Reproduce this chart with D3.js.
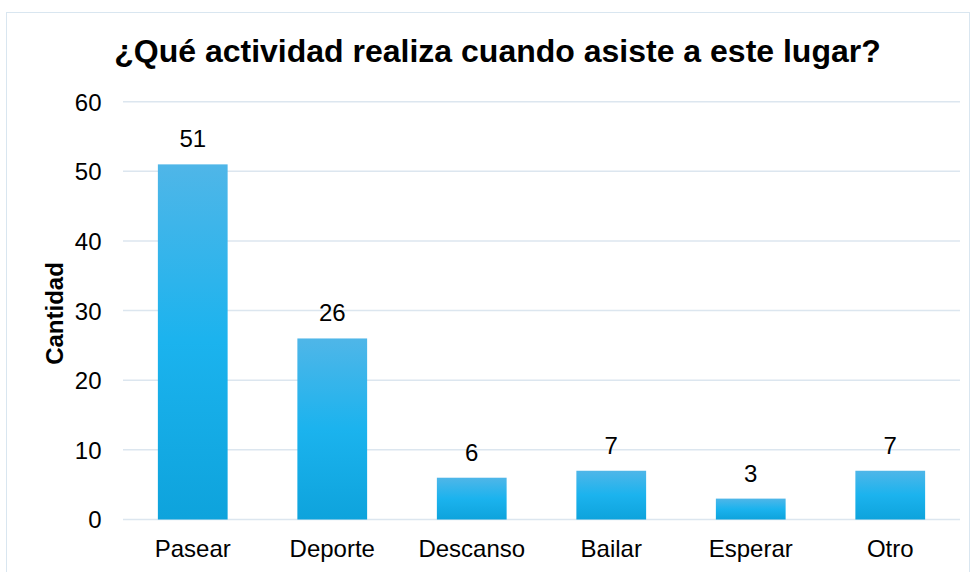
<!DOCTYPE html>
<html><head><meta charset="utf-8">
<script src="https://cdn.jsdelivr.net/npm/d3@7/dist/d3.min.js"></script>
<style>body{margin:0;background:#fff;font-family:"Liberation Sans",Arial,sans-serif}</style>
</head><body>
<svg id="c" width="977" height="572"></svg>
<script>
const categories = ["Pasear","Deporte","Descanso","Bailar","Esperar","Otro"];
const values = [51,26,6,7,3,7];
const yTicks = [0,10,20,30,40,50,60];
const title = "¿Qué actividad realiza cuando asiste a este lugar?";
const yTitle = "Cantidad";

(function(){
const svg = d3.select("#c");
const mLeft = 123, mRight = 960, mTop = 101.7, mBottom = 519.5;
const FF = "Liberation Sans, Arial, sans-serif";

const defs = svg.append("defs");
const g = defs.append("linearGradient").attr("id","bg").attr("x1",0).attr("y1",0).attr("x2",0).attr("y2",1);
g.append("stop").attr("offset","0%").attr("stop-color","#4fb6e8");
g.append("stop").attr("offset","50%").attr("stop-color","#1bb3ee");
g.append("stop").attr("offset","100%").attr("stop-color","#0ea3dc");

svg.append("rect").attr("x",6.5).attr("y",12.5).attr("width",963).attr("height",570)
  .attr("fill","#fff").attr("stroke","#d9e6f0").attr("stroke-width",1);

const x = d3.scaleBand().domain(categories).range([mLeft,mRight]).paddingInner(0.5).paddingOuter(0.25);
const y = d3.scaleLinear().domain([0,60]).range([mBottom,mTop]);

const grid = svg.append("g");
grid.selectAll("line").data(yTicks).join("line")
  .attr("x1",mLeft).attr("x2",mRight).attr("y1",d=>y(d)).attr("y2",d=>y(d))
  .attr("stroke","#dce6ef").attr("stroke-width",1.5);

const yAxis = d3.axisLeft(y).tickValues(yTicks).tickSize(0).tickPadding(0);
const ya = svg.append("g").attr("transform",`translate(101.5,0)`).call(yAxis);
ya.select(".domain").remove();
ya.attr("font-size",null).attr("font-family",null);
ya.selectAll("text").attr("font-size",24).attr("font-family",FF).attr("fill","#000").attr("dy","0.35em");

const xAxis = d3.axisBottom(x).tickSize(0).tickPadding(0);
const xa = svg.append("g").attr("transform",`translate(0,${mBottom})`).call(xAxis);
xa.select(".domain").remove();
xa.attr("font-size",null).attr("font-family",null);
xa.selectAll("text").attr("font-size",24).attr("font-family",FF).attr("fill","#000").attr("dy",0).attr("y",37);

svg.append("g").selectAll("rect").data(values).join("rect")
  .attr("x",(d,i)=>x(categories[i])).attr("width",x.bandwidth())
  .attr("y",d=>y(d)).attr("height",d=>y(0)-y(d)).attr("fill","url(#bg)");

svg.append("g").selectAll("text").data(values).join("text")
  .attr("x",(d,i)=>x(categories[i])+x.bandwidth()/2).attr("y",d=>y(d)-17)
  .attr("text-anchor","middle").attr("font-size",24).attr("font-family",FF).attr("fill","#000").text(d=>d);

svg.append("text").attr("x",497.5).attr("y",62).attr("text-anchor","middle")
  .attr("font-size",32).attr("font-weight","bold").attr("font-family",FF).attr("fill","#000").text(title);

svg.append("text").attr("transform","translate(63,313.5) rotate(-90)").attr("text-anchor","middle")
  .attr("font-size",24).attr("font-weight","bold").attr("font-family",FF).attr("fill","#000").text(yTitle);
})();
</script>
</body></html>
